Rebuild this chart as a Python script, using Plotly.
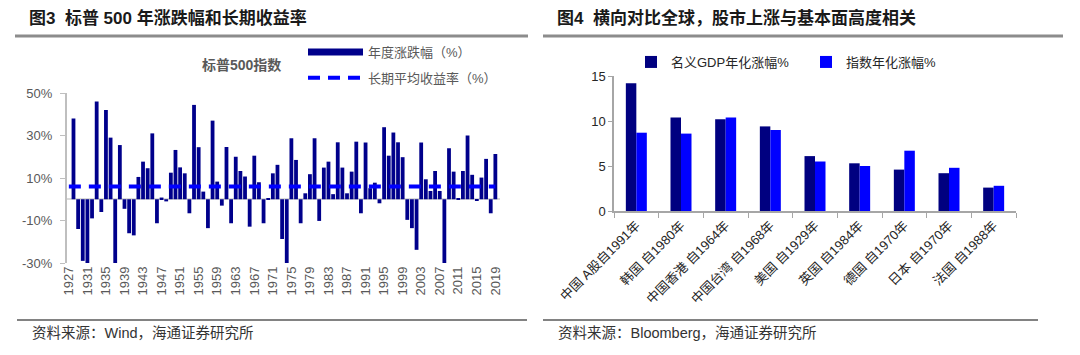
import plotly.graph_objects as go

W, H = 1080, 355
OX, OY = 8, 8  # page body margin offset of the plot div


def px(x):
    return (x - OX) / W


def py(y):
    return 1 - (y - OY) / H


FONT = "Liberation Sans, Noto Sans CJK SC, sans-serif"
NAVY = "#00008B"
BLUE = "#0000FF"

# ---------------- Left chart data (S&P 500 annual change, %) ----------------
years = list(range(1927, 2020))
annual_change = [
    None, 38.0, -14.0, -29.0, -30.0, -9.0, 46.0, -6.0, 42.0, 29.0,      # 1927-1936
    -30.0, 25.5, -4.5, -16.0, -17.0, 10.5, 17.7, 14.6, 31.0, -11.3,     # 1937-1946
    0.8, -1.0, 12.5, 23.2, 15.0, 12.2, -6.6, 44.4, 24.5, 3.6,           # 1947-1956
    -13.6, 37.0, 8.3, -3.0, 24.6, -11.3, 20.0, 13.3, 10.7, -12.9,       # 1957-1966
    20.5, 8.0, -11.3, 0.3, 12.2, 16.2, -18.7, -30.0, 28.7, 18.5,        # 1967-1976
    -11.3, 2.8, 11.8, 28.7, -10.2, 14.9, 17.7, 2.4, 26.8, 14.9,         # 1977-1986
    2.8, 13.0, 27.1, -6.6, 26.7, 5.2, 7.8, -1.9, 33.9, 20.5,            # 1987-1996
    31.4, 26.8, 19.8, -9.7, -13.6, -23.8, 26.7, 9.4, 3.9, 13.3,         # 1997-2006
    3.9, -30.0, 24.0, 13.0, 0.2, 13.3, 30.0, 11.5, -0.7, 10.2,          # 2007-2016
    19.0, -6.6, 21.3,                                                   # 2017-2019
]
long_term_avg = [6.0] * len(years)
year_ticks = years[::4]
y_ticks_left = [-30, -10, 10, 30, 50]
y_ticktext_left = ["-30%", "-10%", "10%", "30%", "50%"]

# ---------------- Right chart data ----------------
markets = [
    "中国 A股自1991年", "韩国 自1980年", "中国香港 自1964年", "中国台湾 自1968年",
    "美国 自1929年", "英国 自1984年", "德国 自1970年", "日本 自1970年", "法国 自1988年",
]
gdp_growth = [14.2, 10.4, 10.2, 9.4, 6.1, 5.3, 4.6, 4.2, 2.6]
index_growth = [8.7, 8.6, 10.4, 9.0, 5.5, 5.0, 6.7, 4.8, 2.8]

fig = go.Figure()

fig.add_trace(go.Bar(
    x=years, y=annual_change, width=0.82, marker=dict(color=NAVY, line=dict(width=0)),
    xaxis="x", yaxis="y", showlegend=False, hoverinfo="x+y",
))
fig.add_trace(go.Scatter(
    x=[None], y=[None], mode="lines", line=dict(color=NAVY, width=7),
    name="年度涨跌幅（%）", legend="legend", legendgroup="a", xaxis="x", yaxis="y",
))
fig.add_trace(go.Scatter(
    x=years, y=long_term_avg, mode="lines",
    line=dict(color=BLUE, width=4, dash="12px,8px"),
    name="长期平均收益率（%）", legend="legend", legendgroup="b", xaxis="x", yaxis="y",
))

fig.add_trace(go.Bar(
    x=markets, y=gdp_growth, name="名义GDP年化涨幅%", marker=dict(color="#000080", line=dict(width=0)),
    xaxis="x2", yaxis="y2", legend="legend2",
))
fig.add_trace(go.Bar(
    x=markets, y=index_growth, name="指数年化涨幅%", marker=dict(color=BLUE, line=dict(width=0)),
    xaxis="x2", yaxis="y2", legend="legend2",
))

shapes = []
# header / footer rules
for x0, x1 in [(15, 528), (543, 1063)]:
    shapes.append(dict(type="line", xref="paper", yref="paper", x0=px(x0), x1=px(x1),
                       y0=py(2.5), y1=py(2.5), line=dict(color="#404040", width=1)))
    shapes.append(dict(type="line", xref="paper", yref="paper", x0=px(x0), x1=px(x1),
                       y0=py(36), y1=py(36), line=dict(color="#8C8C8C", width=3)))
for x0, x1 in [(17, 527), (543, 1038)]:
    shapes.append(dict(type="line", xref="paper", yref="paper", x0=px(x0), x1=px(x1),
                       y0=py(320), y1=py(320), line=dict(color="#595959", width=1.5)))

annotations = [
    dict(text="<b>图3\u00a0\u00a0标普 500 年涨跌幅和长期收益率</b>", x=px(27), y=py(18),
         xref="paper", yref="paper", xanchor="left", yanchor="middle", showarrow=False,
         font=dict(family=FONT, size=17, color="#1A1A1A")),
    dict(text="<b>图4\u00a0\u00a0横向对比全球，股市上涨与基本面高度相关</b>", x=px(555), y=py(18),
         xref="paper", yref="paper", xanchor="left", yanchor="middle", showarrow=False,
         font=dict(family=FONT, size=17, color="#1A1A1A")),
    dict(text="<b>标普500指数</b>", x=px(241), y=py(65), xref="paper", yref="paper",
         xanchor="center", yanchor="middle", showarrow=False,
         font=dict(family=FONT, size=14, color="#595959")),
    dict(text="资料来源：Wind，海通证券研究所", x=px(30), y=py(333), xref="paper", yref="paper",
         xanchor="left", yanchor="middle", showarrow=False,
         font=dict(family=FONT, size=14.5, color="#333333")),
    dict(text="资料来源：Bloomberg，海通证券研究所", x=px(556), y=py(333), xref="paper", yref="paper",
         xanchor="left", yanchor="middle", showarrow=False,
         font=dict(family=FONT, size=14.5, color="#333333")),
]

fig.update_layout(
    width=W, height=H, autosize=False,
    margin=dict(l=0, r=0, t=0, b=0, pad=0, autoexpand=False),
    paper_bgcolor="white", plot_bgcolor="white",
    font=dict(family=FONT),
    barmode="group", bargap=0.53, bargroupgap=0,
    shapes=shapes, annotations=annotations,
    xaxis=dict(
        domain=[px(67), px(500)], range=[1926.6, 2020.0], anchor="y", automargin=False,
        tickmode="array", tickvals=year_ticks, ticktext=[str(v) for v in year_ticks],
        tickangle=-90, tickfont=dict(family=FONT, size=13, color="#595959"),
        showline=False, showgrid=False, zeroline=False, ticks="",
    ),
    yaxis=dict(
        domain=[py(263), py(93)], range=[-30, 50], anchor="x", automargin=False,
        tickmode="array", tickvals=y_ticks_left, ticktext=y_ticktext_left,
        tickfont=dict(family=FONT, size=13, color="#595959"),
        showline=True, linecolor="#BFBFBF", linewidth=2,
        ticks="outside", ticklen=5, tickcolor="#BFBFBF", ticklabelstandoff=5,
        showgrid=False, zeroline=True, zerolinecolor="#D9D9D9", zerolinewidth=1.5,
    ),
    xaxis2=dict(
        domain=[px(614), px(1016)], anchor="y2", type="category", automargin=False,
        tickangle=-45, tickfont=dict(family=FONT, size=13, color="#262626"),
        ticks="outside", tickson="boundaries", ticklen=5, tickcolor="#A6A6A6",
        showline=True, linecolor="#A6A6A6", linewidth=1.5, showgrid=False, zeroline=False,
    ),
    yaxis2=dict(
        domain=[py(211), py(76)], range=[0, 15], anchor="x2", dtick=5, tick0=0, automargin=False,
        tickfont=dict(family=FONT, size=13, color="#262626"),
        showline=True, linecolor="#A6A6A6", linewidth=1.5,
        ticks="outside", ticklen=4, tickcolor="#A6A6A6",
        showgrid=False, zeroline=False,
    ),
    legend=dict(
        x=px(303), y=py(37), xanchor="left", yanchor="top",
        font=dict(family=FONT, size=13, color="#595959"),
        itemwidth=55, tracegroupgap=6, bgcolor="rgba(0,0,0,0)",
    ),
    legend2=dict(
        orientation="h", x=px(631), y=py(62), xanchor="left", yanchor="middle",
        font=dict(family=FONT, size=13, color="#262626"),
        entrywidth=130, entrywidthmode="pixels", bgcolor="rgba(0,0,0,0)",
    ),
)

fig.write_html("out.html")
